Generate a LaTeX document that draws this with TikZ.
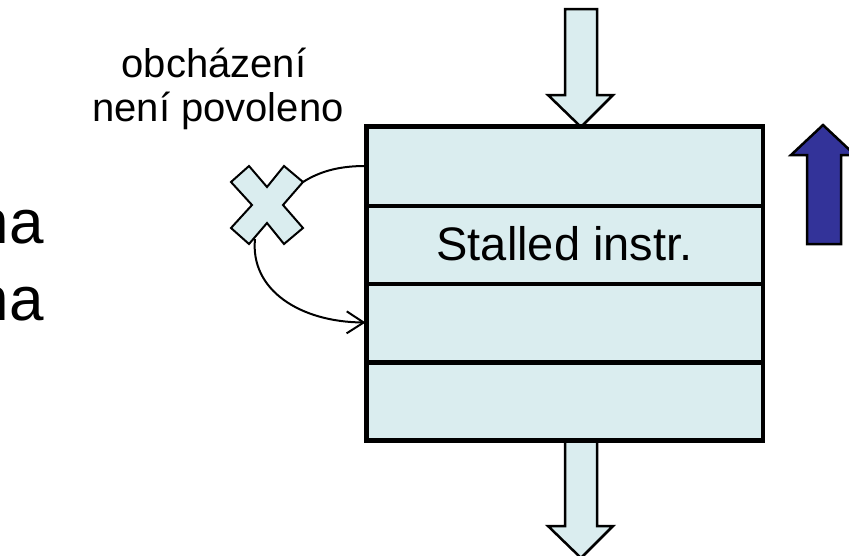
\documentclass[tikz,border=0pt]{standalone}
\usepackage{fontspec}
\setmainfont{Liberation Sans}
\usetikzlibrary{arrows.meta}
\definecolor{pale}{HTML}{DAEDEF}
\definecolor{deepblue}{HTML}{333399}
\begin{document}
\begin{tikzpicture}[x=1pt,y=-1pt,
  rowbox/.style={draw, fill=pale, line width=3pt, minimum width=395pt, minimum height=78pt, inner sep=0pt, font=\fontsize{47}{56}\selectfont},
  flowarrow/.style={draw, fill=pale, line width=2.5pt, line join=miter},
  bluearrow/.style={draw, fill=deepblue, line width=2.5pt, line join=miter},
  crossmark/.style={draw, fill=pale, line width=2pt, line join=miter},
  link/.style={draw, line width=2pt},
  lbl/.style={inner sep=0pt, font=\fontsize{40}{48}\selectfont},
  biglbl/.style={inner sep=0pt, font=\fontsize{62}{74}\selectfont}]
\useasboundingbox (0,0) rectangle (849,555);
% flow arrows
\path[flowarrow] (565,9) -- (597,9) -- (597,95) -- (613,95) -- (581,127) -- (548,95) -- (565,95) -- cycle;
\path[flowarrow] (565,436) -- (597,436) -- (597,526) -- (613,526) -- (581,558) -- (548,526) -- (565,526) -- cycle;
% pipeline rows
\node[rowbox] (r1) at (564.5,166) {};
\node[rowbox] (r2) at (564.5,244) {Stalled instr.};
\node[rowbox] (r3) at (564.5,322.5) {};
\node[rowbox] (r4) at (564.5,400.5) {};
\draw[line width=3pt] (r1.north west) rectangle (r4.south east);
\draw[line width=3pt] (r1.south west) -- (r1.south east);
\draw[line width=3pt] (r2.south west) -- (r2.south east);
\draw[line width=3pt] (r3.south west) -- (r3.south east);
% blue arrow
\path[bluearrow] (807,244) -- (841,244) -- (841,155) -- (855,155) -- (823,125) -- (791,155) -- (807,155) -- cycle;
% cross
\path[crossmark] (249,166) -- (267,187) -- (284,166) -- (303,182) -- (283,205) -- (303,228) -- (284,244) -- (267,223) -- (249,244) -- (231,228) -- (252,205) -- (231,182) -- cycle;
\coordinate (xa) at (303,182);
\coordinate (xb) at (255,239);
\draw[link] (xa) .. controls (322,170) and (342,166) .. (r1.west);
\draw[link, -{Straight Barb[length=17pt,width=22pt]}] (xb) .. controls (250,290) and (300,322) .. (r3.west);
% texts
\node[lbl, anchor=base] (t1) at (214,77) {obcházení};
\node[lbl, anchor=base] (t2) at (218,121) {není povoleno};
\node[biglbl, anchor=base east] (n1) at (44,243) {na};
\node[biglbl, anchor=base east] (n2) at (44,320) {na};
\end{tikzpicture}
\end{document}
